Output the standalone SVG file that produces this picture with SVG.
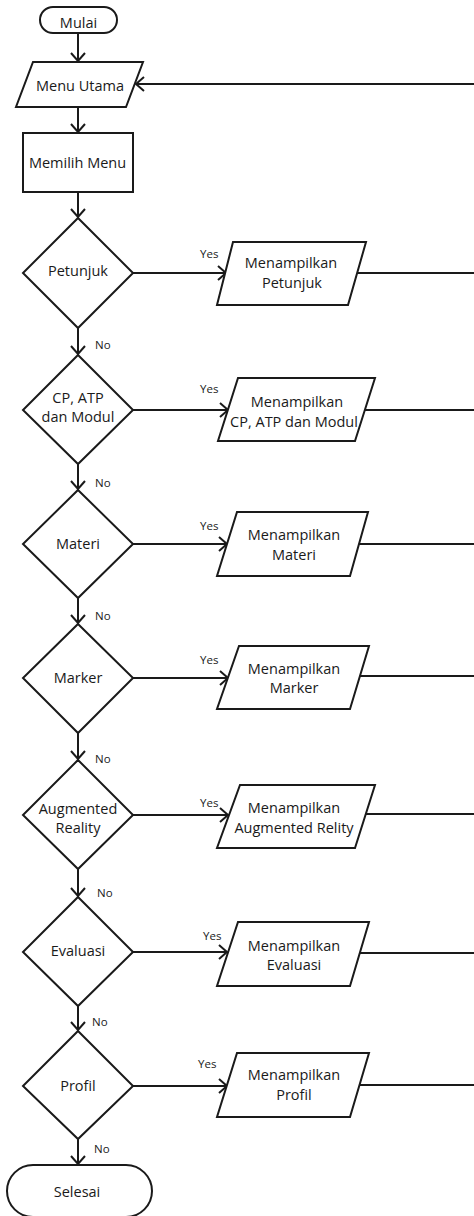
<svg xmlns="http://www.w3.org/2000/svg" width="474" height="1216" viewBox="0 0 474 1216">
<defs>
<style>
.s{fill:#fff;stroke:#1a1a1a;stroke-width:2;stroke-linejoin:miter}
.c{fill:none;stroke:#1a1a1a;stroke-width:2}
.t{font-family:"Open Sans","Noto Sans",sans-serif;font-size:14.5px;fill:#1a1a1a;text-anchor:middle}
.l{font-family:"Open Sans","Noto Sans",sans-serif;font-size:11.5px;fill:#1a1a1a}
</style>
<marker id="a" viewBox="-10 -10 20 20" refX="0" refY="0" markerWidth="20" markerHeight="20" markerUnits="userSpaceOnUse" orient="auto" overflow="visible">
<path d="M-8,-7 L0,0 L-8,7" fill="none" stroke="#1a1a1a" stroke-width="2"/>
</marker>
</defs>
<rect width="474" height="1216" fill="#fff"/>
<g id="connectors">
<path class="c" d="M78,33 V61" marker-end="url(#a)"/>
<path class="c" d="M78,107 V132" marker-end="url(#a)"/>
<path class="c" d="M78,192 V217" marker-end="url(#a)"/>
<path class="c" d="M78,328 V354" marker-end="url(#a)"/>
<path class="c" d="M78,464 V489" marker-end="url(#a)"/>
<path class="c" d="M78,598 V623" marker-end="url(#a)"/>
<path class="c" d="M78,733 V759" marker-end="url(#a)"/>
<path class="c" d="M78,869 V896" marker-end="url(#a)"/>
<path class="c" d="M78,1006 V1030" marker-end="url(#a)"/>
<path class="c" d="M78,1139 V1164" marker-end="url(#a)"/>
<path class="c" d="M133,273 H226" marker-end="url(#a)"/>
<path class="c" d="M133,410 H228" marker-end="url(#a)"/>
<path class="c" d="M133,544 H227" marker-end="url(#a)"/>
<path class="c" d="M133,678 H228" marker-end="url(#a)"/>
<path class="c" d="M133,815 H228" marker-end="url(#a)"/>
<path class="c" d="M133,952 H227" marker-end="url(#a)"/>
<path class="c" d="M133,1086 H227" marker-end="url(#a)"/>
<path class="c" d="M357,273 H474"/>
<path class="c" d="M365,410 H474"/>
<path class="c" d="M359,544 H474"/>
<path class="c" d="M360,676 H474"/>
<path class="c" d="M365,814 H474"/>
<path class="c" d="M360,953 H474"/>
<path class="c" d="M360,1085 H474"/>
<path class="c" d="M474,84 H136" marker-end="url(#a)"/>
<text class="l" x="200" y="258">Yes</text>
<text class="l" x="200" y="393">Yes</text>
<text class="l" x="200" y="530">Yes</text>
<text class="l" x="200" y="664">Yes</text>
<text class="l" x="200" y="807">Yes</text>
<text class="l" x="203" y="940">Yes</text>
<text class="l" x="198" y="1068">Yes</text>
<text class="l" x="95" y="349">No</text>
<text class="l" x="95" y="487">No</text>
<text class="l" x="95" y="620">No</text>
<text class="l" x="95" y="763">No</text>
<text class="l" x="97" y="897">No</text>
<text class="l" x="92" y="1026">No</text>
<text class="l" x="94" y="1153">No</text>
</g>
<g id="mulai">
<rect class="s" x="40" y="7" width="77" height="26" rx="13"/>
<text class="t" x="78.5" y="28">Mulai</text>
</g>
<g id="menu-utama">
<polygon class="s" points="33,62 143,62 126,107 16,107"/>
<text class="t" x="80" y="90.5">Menu Utama</text>
</g>
<g id="memilih-menu">
<rect class="s" x="23" y="133" width="110" height="59"/>
<text class="t" x="77.5" y="168">Memilih Menu</text>
</g>
<g id="petunjuk">
<polygon class="s" points="78,218 133,273 78,328 23,273"/>
<text class="t" x="78" y="276">Petunjuk</text>
</g>
<g id="tampil-petunjuk">
<polygon class="s" points="233,242 366,242 348,305 217,305"/>
<text class="t" x="291" y="268">Menampilkan</text>
<text class="t" x="292" y="288">Petunjuk</text>
</g>
<g id="cp-atp">
<polygon class="s" points="78,355 133,410 78,464 23,410"/>
<text class="t" x="78" y="403">CP, ATP</text>
<text class="t" x="78" y="422">dan Modul</text>
</g>
<g id="tampil-cp-atp">
<polygon class="s" points="238,378 375,378 355,441 218,441"/>
<text class="t" x="297" y="407">Menampilkan</text>
<text class="t" x="294" y="427">CP, ATP dan Modul</text>
</g>
<g id="materi">
<polygon class="s" points="78,490 133,544 78,598 23,544"/>
<text class="t" x="78" y="549">Materi</text>
</g>
<g id="tampil-materi">
<polygon class="s" points="237,512 368,512 350,576 217,576"/>
<text class="t" x="294" y="540">Menampilkan</text>
<text class="t" x="294" y="560">Materi</text>
</g>
<g id="marker">
<polygon class="s" points="78,624 133,678 78,733 23,678"/>
<text class="t" x="78" y="683">Marker</text>
</g>
<g id="tampil-marker">
<polygon class="s" points="239,646 369,646 350,709 217,709"/>
<text class="t" x="294" y="674">Menampilkan</text>
<text class="t" x="294" y="693">Marker</text>
</g>
<g id="augmented-reality">
<polygon class="s" points="78,760 133,815 78,869 23,815"/>
<text class="t" x="78" y="814">Augmented</text>
<text class="t" x="78" y="833">Reality</text>
</g>
<g id="tampil-ar">
<polygon class="s" points="240,785 375,785 355,848 217,848"/>
<text class="t" x="294" y="813">Menampilkan</text>
<text class="t" x="294" y="833">Augmented Relity</text>
</g>
<g id="evaluasi">
<polygon class="s" points="78,897 133,952 78,1006 23,952"/>
<text class="t" x="78" y="956">Evaluasi</text>
</g>
<g id="tampil-evaluasi">
<polygon class="s" points="238,922 369,922 350,986 217,986"/>
<text class="t" x="294" y="951">Menampilkan</text>
<text class="t" x="294" y="970">Evaluasi</text>
</g>
<g id="profil">
<polygon class="s" points="78,1031 133,1086 78,1139 23,1086"/>
<text class="t" x="78" y="1091">Profil</text>
</g>
<g id="tampil-profil">
<polygon class="s" points="237,1053 369,1053 350,1117 217,1117"/>
<text class="t" x="294" y="1080">Menampilkan</text>
<text class="t" x="294" y="1100">Profil</text>
</g>
<g id="selesai">
<rect class="s" x="7" y="1165" width="145" height="52" rx="26"/>
<text class="t" x="77" y="1197">Selesai</text>
</g>
</svg>
